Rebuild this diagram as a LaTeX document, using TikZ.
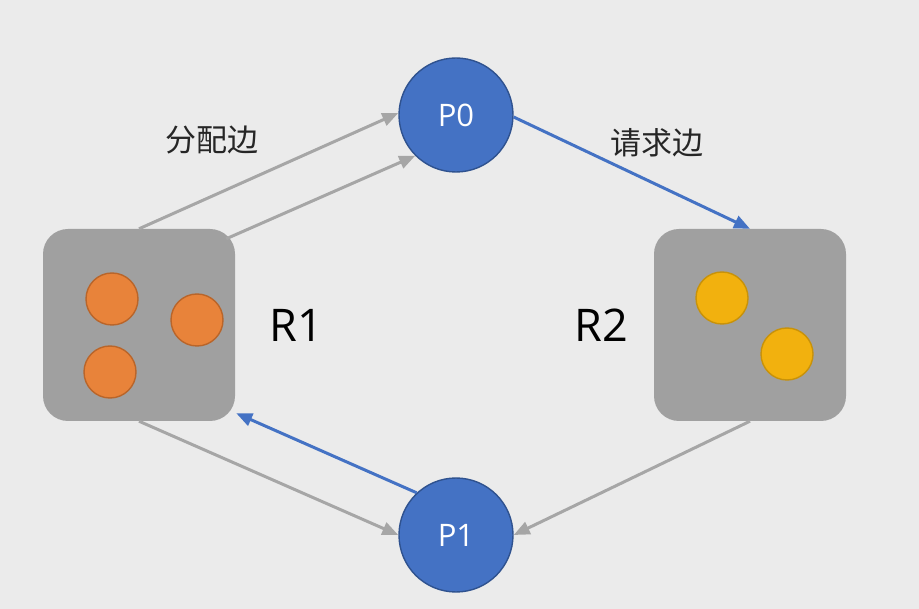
\documentclass[tikz,border=0pt]{standalone}
\usepackage{fontspec}
\setmainfont{Open Sans}
\newfontfamily\cjk{Noto Sans CJK SC}
\usetikzlibrary{arrows.meta,calc}
\definecolor{bg}{HTML}{EBEBEB}
\definecolor{boxgray}{HTML}{A0A0A0}
\definecolor{edgegray}{HTML}{A6A6A6}
\definecolor{pblue}{HTML}{4472C4}
\definecolor{pborder}{HTML}{2F528F}
\definecolor{ofill}{HTML}{E8833A}
\definecolor{oborder}{HTML}{B9652A}
\definecolor{yfill}{HTML}{F2B10E}
\definecolor{yborder}{HTML}{C8920A}
\tikzset{
  resbox/.style={draw=none,fill=boxgray,rounded corners=25pt,minimum width=192pt,minimum height=192pt,inner sep=0pt},
  proc/.style={circle,draw=pborder,line width=1.4pt,fill=pblue,minimum size=114pt,inner sep=0pt,text=white,font=\fontsize{31}{34}\selectfont},
  orangedot/.style={circle,draw=oborder,line width=1.4pt,fill=ofill,minimum size=52pt,inner sep=0pt},
  yellowdot/.style={circle,draw=yborder,line width=1.4pt,fill=yfill,minimum size=52pt,inner sep=0pt},
  rlabel/.style={font=\fontsize{45}{48}\selectfont,text=black},
  elabel/.style={font=\cjk\fontsize{31}{34}\selectfont,text=black!85},
  grayedge/.style={draw=edgegray,line width=3pt,-{Triangle[length=16pt,width=13pt]}},
  blueedge/.style={draw=pblue,line width=3pt,-{Triangle[length=16pt,width=13pt]}},
}
\begin{document}
\begin{tikzpicture}[x=1pt,y=-1pt]
\useasboundingbox (0,0) rectangle (919,609);
\fill[bg] (0,0) rectangle (919,609);
\node[resbox] (R1) at (139,325) {};
\node[resbox] (R2) at (750,325) {};
\node[orangedot] (o1) at (112,299) {};
\node[orangedot] (o2) at (197,320) {};
\node[orangedot] (o3) at (110,372) {};
\node[yellowdot] (y1) at (722,298) {};
\node[yellowdot] (y2) at (787,354) {};
\node[proc] (P0) at (456,115) {P0};
\node[proc] (P1) at (456,535) {P1};
\node[rlabel] (L1) at (296,325) {R1};
\node[rlabel] (L2) at (601,325) {R2};
\node[elabel] (E1) at (212,140) {分配边};
\node[elabel] (E2) at (657,143) {请求边};
\draw[grayedge] (R1.north) -- (P0.178);
\draw[grayedge] ($(R1.north east)+(-9pt,-10pt)$) -- (P0.225);
\draw[blueedge] (P0.358) -- (R2.north);
\draw[grayedge] (R2.south) -- (P1.east);
\draw[grayedge] (R1.south) -- (P1.west);
\draw[blueedge] (P1.133) -- ($(R1.south east)+(1pt,8pt)$);
\end{tikzpicture}
\end{document}
